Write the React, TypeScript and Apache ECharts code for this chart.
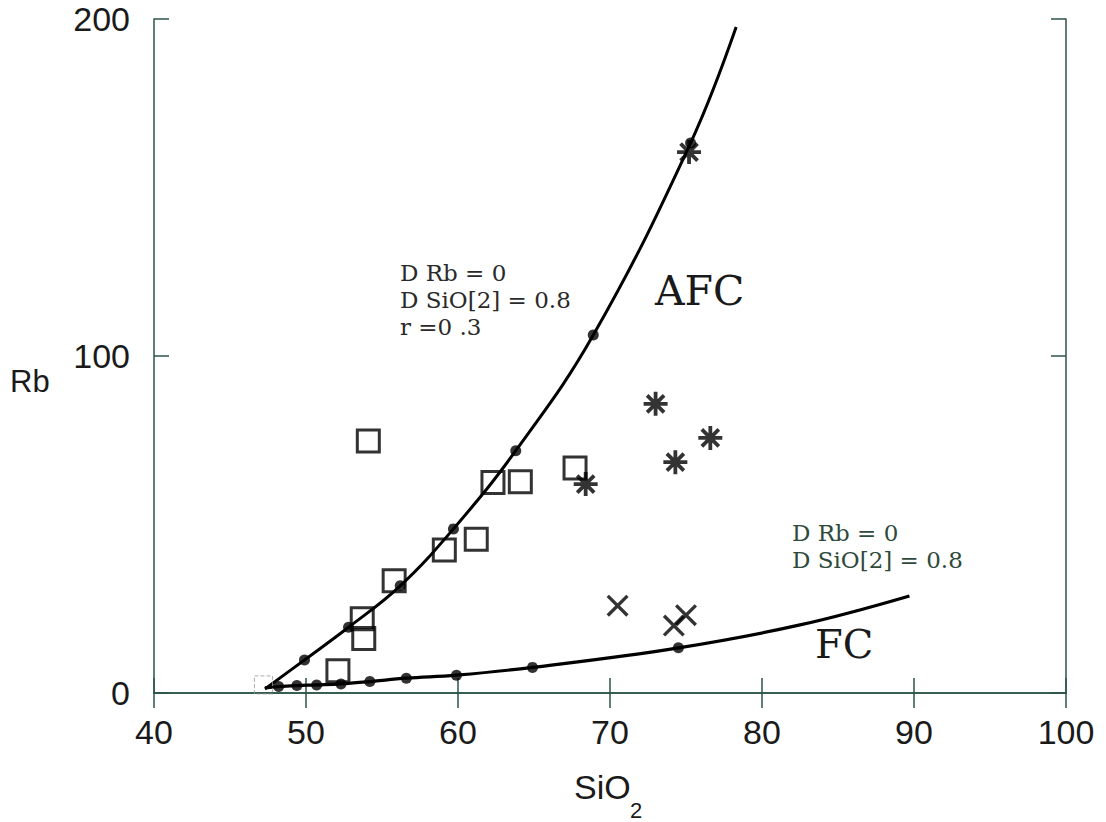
import React, { useEffect, useRef } from "react";
import * as echarts from "echarts";

// ---- data ----
const xTicks = [40, 50, 60, 70, 80, 90, 100];
const yTicks = [0, 100, 200];

const afcCurve: [number, number][] = [
  [47.3, 1.2], [49.9, 9.8], [52.8, 19.5], [56.2, 31.8], [59.7, 48.7],
  [63.8, 71.9], [68.9, 106.2], [75.3, 163.2], [78.3, 197.6],
];
const afcDots: [number, number][] = [
  [49.9, 9.8], [52.8, 19.5], [56.2, 31.8], [59.7, 48.7],
  [63.8, 71.9], [68.9, 106.2], [75.3, 163.2],
];
const fcCurve: [number, number][] = [
  [47.3, 1.5], [48.2, 1.9], [49.4, 2.2], [50.7, 2.4], [52.3, 2.7], [54.2, 3.4],
  [56.6, 4.4], [59.9, 5.3], [64.9, 7.6], [74.5, 13.4], [82.5, 20.2], [89.7, 28.8],
];
const fcDots: [number, number][] = [
  [48.2, 1.9], [49.4, 2.2], [50.7, 2.4], [52.3, 2.7], [54.2, 3.4],
  [56.6, 4.4], [59.9, 5.3], [64.9, 7.6], [74.5, 13.4],
];
const squares: [number, number][] = [
  [54.1, 74.8], [62.3, 62.5], [64.1, 62.7], [59.1, 42.4], [61.2, 45.6],
  [55.8, 33.3], [53.7, 22.0], [53.8, 16.2], [52.1, 6.6], [67.7, 66.8],
];
const faintSquare: [number, number][] = [[47.2, 2.4]];
const asterisks: [number, number][] = [
  [75.2, 160.5], [73.0, 85.8], [74.3, 68.5], [76.6, 75.7], [68.4, 62.0],
];
const crosses: [number, number][] = [
  [70.5, 25.9], [74.2, 20.0], [75.0, 23.1],
];

const afcNote = ["D Rb = 0", "D SiO[2] = 0.8", "r =0 .3"];
const fcNote = ["D Rb = 0", "D SiO[2] = 0.8"];

// ---- symbol shapes ----
function barsPath(angles: number[], L: number, w: number): string {
  let d = "";
  for (const a of angles) {
    const t = (a * Math.PI) / 180;
    const dx = Math.cos(t), dy = Math.sin(t);
    const nx = -dy, ny = dx;
    const pts = [
      [L / 2 * dx + w / 2 * nx, L / 2 * dy + w / 2 * ny],
      [-L / 2 * dx + w / 2 * nx, -L / 2 * dy + w / 2 * ny],
      [-L / 2 * dx - w / 2 * nx, -L / 2 * dy - w / 2 * ny],
      [L / 2 * dx - w / 2 * nx, L / 2 * dy - w / 2 * ny],
    ].map((p) => [(p[0] + 20).toFixed(2), (p[1] + 20).toFixed(2)]);
    d += `M${pts[0][0]} ${pts[0][1]}L${pts[1][0]} ${pts[1][1]}L${pts[2][0]} ${pts[2][1]}L${pts[3][0]} ${pts[3][1]}Z`;
  }
  return "path://" + d;
}
const asteriskSymbol = barsPath([0, 45, 90, 135], 24, 3.8);
const crossSymbol = barsPath([45, 135], 30, 3.6);

const AXIS_COLOR = "#2d5545";

export default function App() {
  const ref = useRef<HTMLDivElement>(null);
  useEffect(() => {
    document.body.style.margin = "0";
    const chart = echarts.init(ref.current!, undefined, { renderer: "svg" });
    const tickStyle = { show: true, inside: true, length: 15, lineStyle: { color: AXIS_COLOR, width: 1.5 } };
    const axisLine = { show: true, lineStyle: { color: AXIS_COLOR, width: 1.5 } };
    const labelFont = { fontFamily: "Liberation Sans", fontSize: 34, color: "#1a1a1a" };
    const sans = { fontFamily: "Liberation Sans", fill: "#1a1a1a" };
    const serif = { fontFamily: "DejaVu Serif" };
    chart.setOption({
      animation: false,
      backgroundColor: "#ffffff",
      grid: { left: 154, right: 40, top: 19, bottom: 129 },
      xAxis: [
        {
          type: "value", min: xTicks[0], max: xTicks[xTicks.length - 1], interval: 10,
          axisLine, axisTick: tickStyle, splitLine: { show: false },
          axisLabel: { ...labelFont, margin: 22 },
        },
        {
          type: "value", position: "top", min: xTicks[0], max: xTicks[xTicks.length - 1], interval: 10,
          axisLine, axisTick: tickStyle, splitLine: { show: false }, axisLabel: { show: false },
        },
      ],
      yAxis: [
        {
          type: "value", min: yTicks[0], max: yTicks[yTicks.length - 1], interval: 100,
          axisLine, axisTick: tickStyle, splitLine: { show: false },
          axisLabel: { ...labelFont, margin: 24 },
        },
        {
          type: "value", position: "right", min: yTicks[0], max: yTicks[yTicks.length - 1], interval: 100,
          axisLine, axisTick: tickStyle, splitLine: { show: false }, axisLabel: { show: false },
        },
      ],
      series: [
        {
          type: "line", data: afcCurve, smooth: 0.4, showSymbol: false,
          lineStyle: { color: "#000", width: 3 }, z: 2,
        },
        {
          type: "line", data: fcCurve, smooth: 0.4, showSymbol: false,
          lineStyle: { color: "#000", width: 3.2 }, z: 2,
        },
        {
          type: "scatter", data: [...afcDots, ...fcDots], symbol: "circle", symbolSize: 11,
          itemStyle: { color: "#000" }, z: 3,
        },
        {
          type: "scatter", data: squares, symbol: "rect", symbolSize: 22,
          itemStyle: { color: "rgba(0,0,0,0)", borderColor: "#000", borderWidth: 3 }, z: 4,
        },
        {
          type: "scatter", data: faintSquare, symbol: "rect", symbolSize: 18,
          itemStyle: { color: "rgba(0,0,0,0)", borderColor: "#9a9a9a", borderWidth: 1, borderType: "dashed" }, z: 4,
        },
        {
          type: "scatter", data: asterisks, symbol: asteriskSymbol, symbolSize: 24,
          itemStyle: { color: "#000" }, z: 4,
        },
        {
          type: "scatter", data: crosses, symbol: crossSymbol, symbolSize: 22,
          itemStyle: { color: "#000" }, z: 4,
        },
      ],
      graphic: [
        {
          type: "text", left: 10, top: 366,
          style: { ...sans, text: "Rb", fontSize: 31 },
        },
        {
          type: "text", left: 574, top: 770,
          style: { ...sans, text: "SiO", fontSize: 34 },
        },
        {
          type: "text", left: 630, top: 799,
          style: { ...sans, text: "2", fontSize: 22 },
        },
        {
          type: "text", left: 400, top: 259,
          style: { ...serif, text: afcNote.join("\n"), fontSize: 23, lineHeight: 27, fill: "#2a2a2a" },
        },
        {
          type: "text", left: 655, top: 270,
          style: { ...serif, text: "AFC", fontSize: 41, fill: "#1a1a1a" },
        },
        {
          type: "text", left: 792, top: 519,
          style: { ...serif, text: fcNote.join("\n"), fontSize: 23, lineHeight: 27, fill: "#2f4a3d" },
        },
        {
          type: "text", left: 815, top: 624,
          style: { ...serif, text: "FC", fontSize: 40, fill: "#1a1a1a" },
        },
      ],
    });
    return () => chart.dispose();
  }, []);
  return <div ref={ref} style={{ width: 1106, height: 822 }} />;
}
